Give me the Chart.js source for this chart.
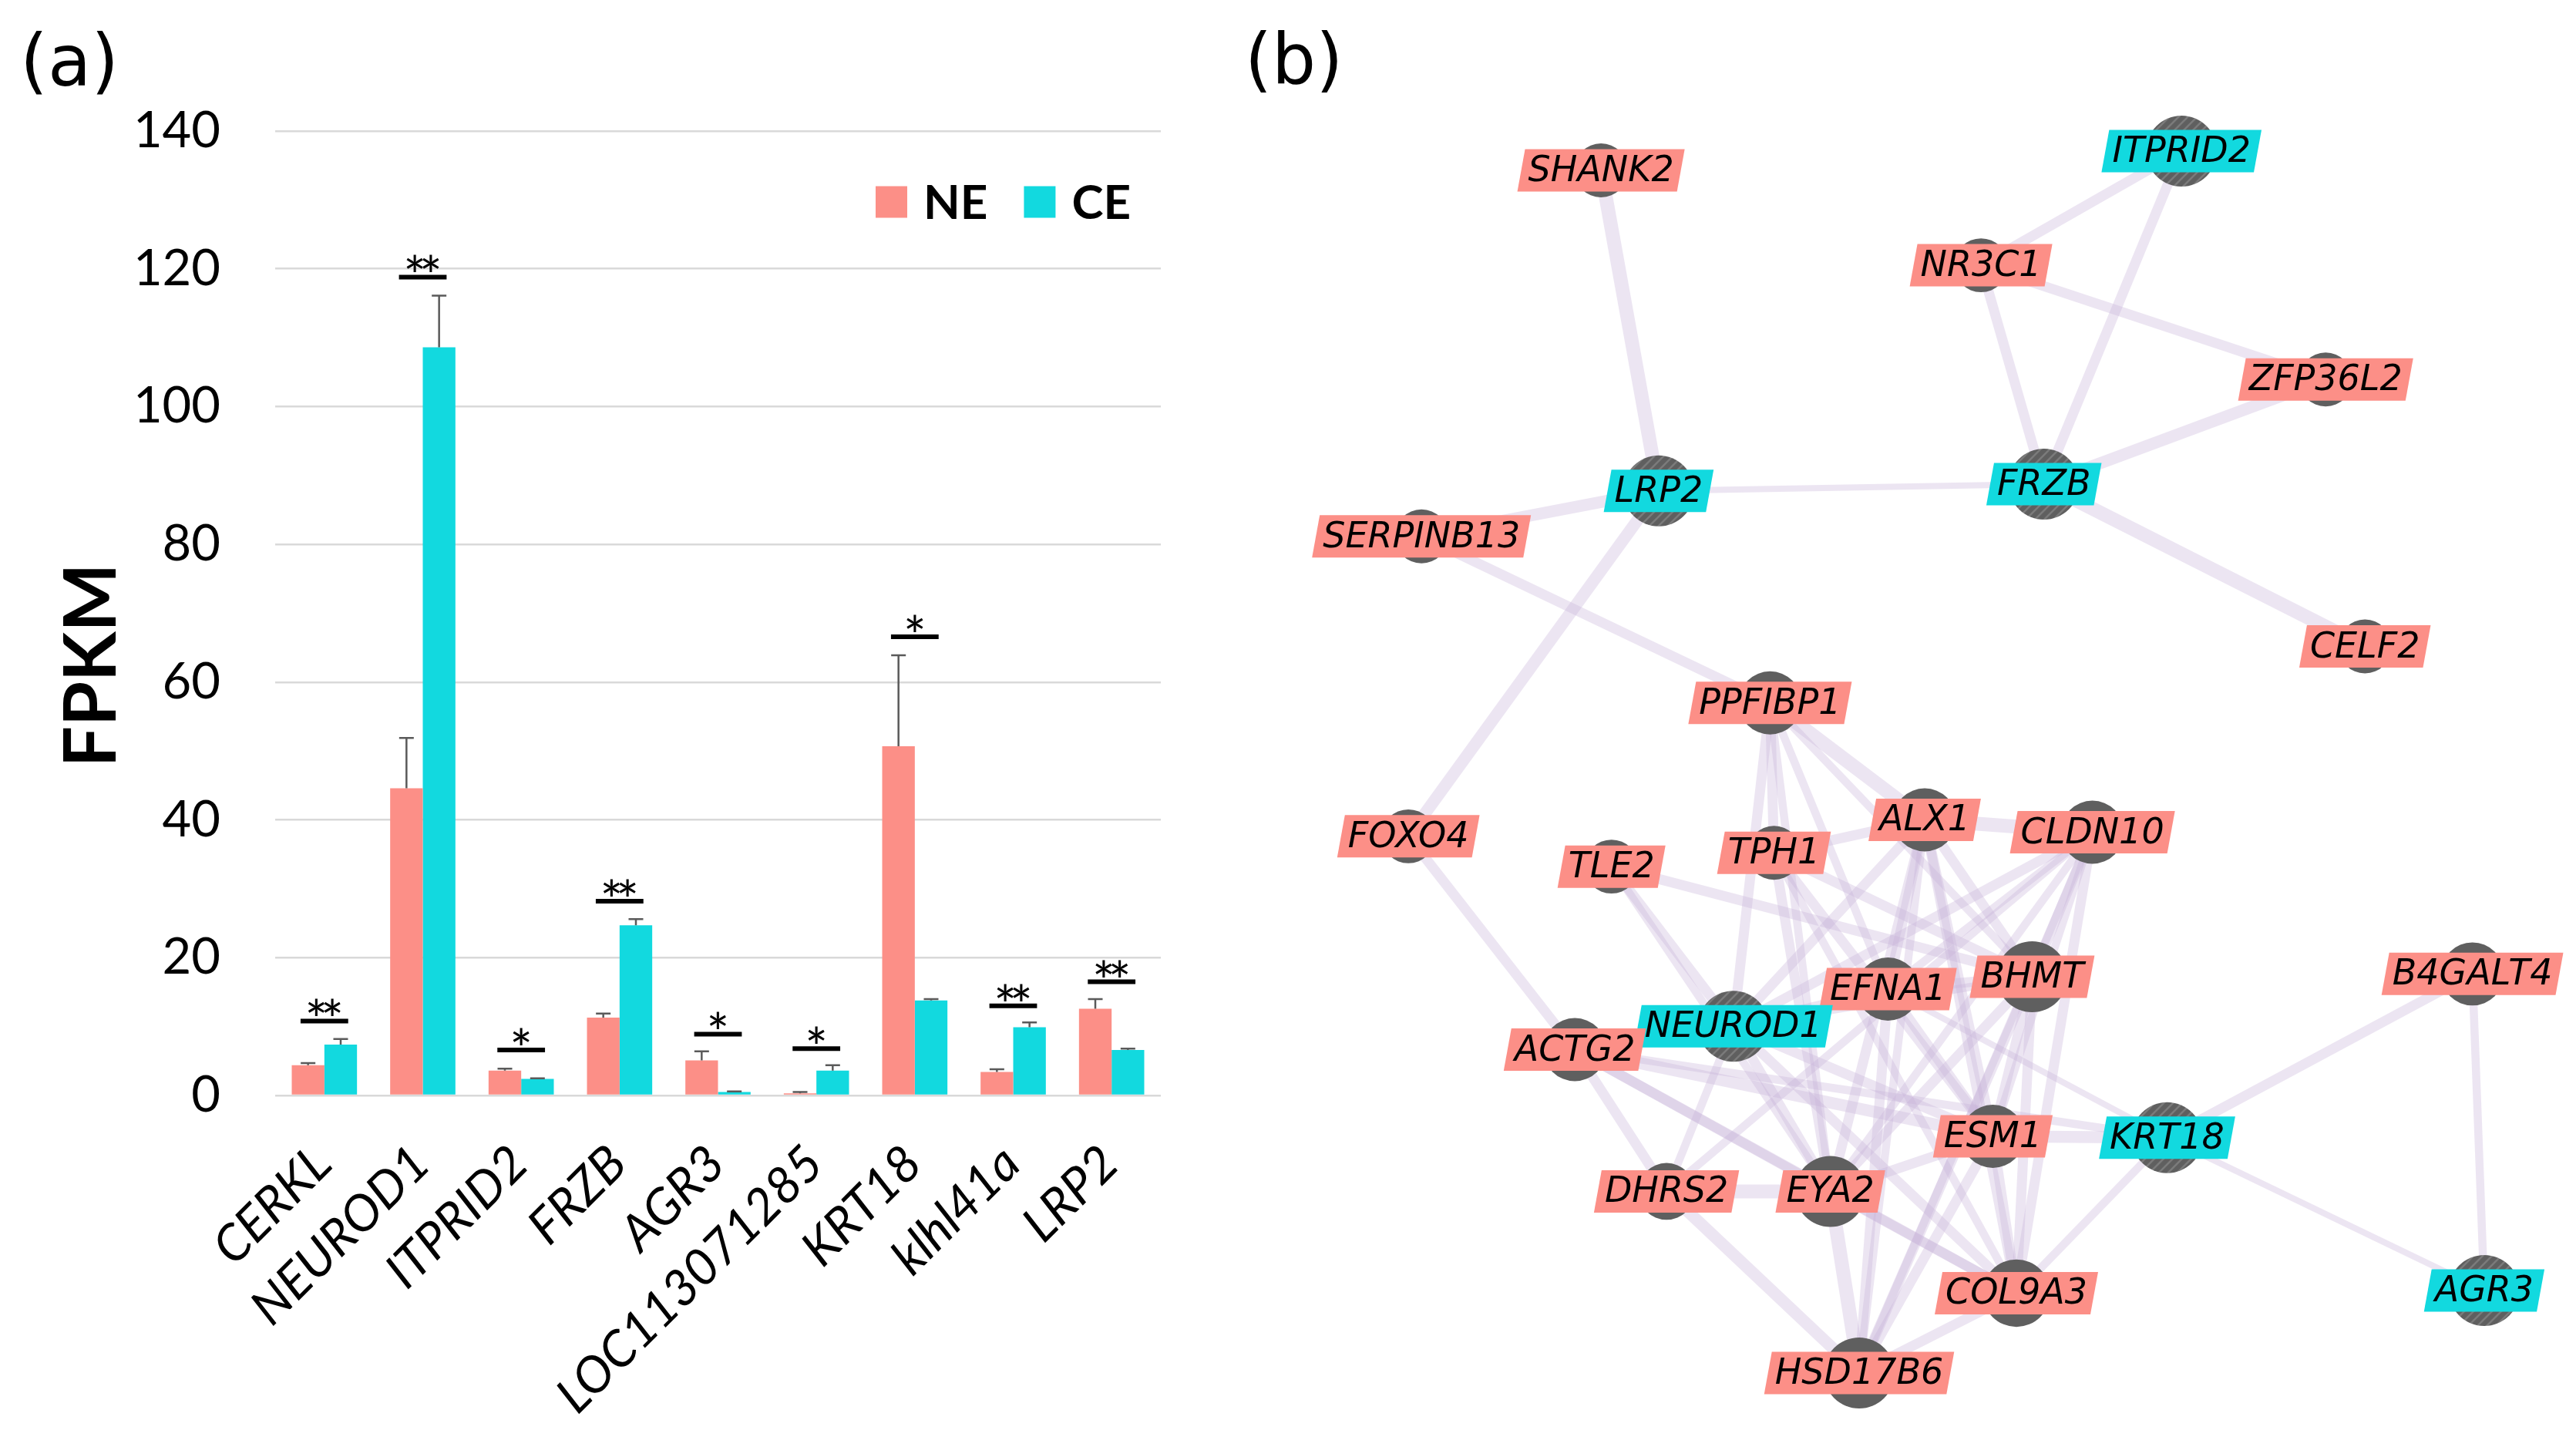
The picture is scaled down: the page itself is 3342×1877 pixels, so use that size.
<!DOCTYPE html>
<html>
<head>
<meta charset="utf-8">
<script src="https://cdn.jsdelivr.net/npm/chart.js@4.4.1/dist/chart.umd.min.js"></script>
<style>
html, body { margin: 0; padding: 0; background: #fff; width: 3342px; height: 1877px; overflow: hidden; }
#bars { position: absolute; left: 0; top: 0; }
#net { position: absolute; left: 1550px; top: 0; }
</style>
</head>
<body>
<canvas id="bars" width="1550" height="1877"></canvas>
<canvas id="net" width="1792" height="1877"></canvas>
<script>
// (a) expression of the DEGs
var categories = ['CERKL', 'NEUROD1', 'ITPRID2', 'FRZB', 'AGR3', 'LOC113071285', 'KRT18', 'klhl41a', 'LRP2'];
var neValues = [4.4, 44.6, 3.6, 11.3, 5.1, 0.3, 50.7, 3.4, 12.6];
var neErrors = [0.3, 7.3, 0.3, 0.6, 1.3, 0.2, 13.2, 0.4, 1.4];
var ceValues = [7.4, 108.6, 2.4, 24.7, 0.5, 3.6, 13.8, 9.9, 6.6];
var ceErrors = [0.8, 7.5, 0.1, 0.9, 0.1, 0.8, 0.2, 0.7, 0.2];
var sigMarks = ['**', '**', '*', '**', '*', '*', '*', '**', '**'];
var sigHeights = [10.8, 118.8, 6.6, 28.2, 8.9, 6.8, 66.6, 13.0, 16.5];
var yTicks = [0, 20, 40, 60, 80, 100, 120, 140];

// (b) interaction network (layout units 0-1000)
var nodeNames = ['SHANK2', 'ITPRID2', 'NR3C1', 'ZFP36L2', 'LRP2', 'FRZB', 'SERPINB13', 'CELF2', 'PPFIBP1',
  'FOXO4', 'ALX1', 'CLDN10', 'TLE2', 'TPH1', 'EFNA1', 'BHMT', 'B4GALT4', 'NEUROD1', 'ACTG2', 'ESM1',
  'KRT18', 'DHRS2', 'EYA2', 'COL9A3', 'AGR3', 'HSD17B6'];
var nodeX = [283, 726, 573, 836, 327, 621, 146, 866, 412, 136, 530, 658, 291, 415, 502, 612, 948, 384, 263,
  582, 715, 333, 458, 600, 957, 480];
var nodeY = [98, 84, 167, 250, 331, 326, 364, 444, 485, 582, 570, 579, 604, 594, 693, 684, 682, 720, 737,
  800, 801, 840, 840, 914, 912, 972];
var nodeScore = [0.76, 1, 0.76, 0.76, 1, 1, 0.76, 0.76, 0.89, 0.76, 0.89, 0.89, 0.76, 0.76, 0.89, 1, 0.89, 1,
  0.89, 0.89, 1, 0.8, 1, 0.95, 1, 1];
var edgeList = [
  ['SHANK2', 'LRP2', 3], ['SERPINB13', 'LRP2', 2.5], ['LRP2', 'FRZB', 1], ['LRP2', 'FOXO4', 2.5],
  ['SERPINB13', 'PPFIBP1', 2], ['NR3C1', 'ITPRID2', 2], ['ITPRID2', 'FRZB', 2], ['NR3C1', 'FRZB', 2],
  ['NR3C1', 'ZFP36L2', 2], ['FRZB', 'ZFP36L2', 2.5], ['FRZB', 'CELF2', 3], ['FOXO4', 'ACTG2', 2],
  ['PPFIBP1', 'ALX1', 3], ['PPFIBP1', 'TPH1', 2], ['PPFIBP1', 'NEUROD1', 2], ['PPFIBP1', 'EYA2', 1.5],
  ['PPFIBP1', 'BHMT', 1.5], ['PPFIBP1', 'EFNA1', 1.5], ['TPH1', 'ALX1', 2], ['ALX1', 'CLDN10', 3],
  ['TLE2', 'NEUROD1', 2], ['TLE2', 'BHMT', 2], ['TLE2', 'EYA2', 1.5], ['ACTG2', 'NEUROD1', 2],
  ['ACTG2', 'ESM1', 2.5], ['ACTG2', 'KRT18', 1.5], ['ACTG2', 'DHRS2', 2], ['ACTG2', 'COL9A3', 2],
  ['ACTG2', 'EYA2', 2], ['NEUROD1', 'EFNA1', 2], ['NEUROD1', 'EYA2', 2], ['NEUROD1', 'ESM1', 2],
  ['NEUROD1', 'COL9A3', 2], ['NEUROD1', 'ALX1', 2], ['NEUROD1', 'CLDN10', 2], ['NEUROD1', 'BHMT', 1.5],
  ['NEUROD1', 'DHRS2', 1.5], ['DHRS2', 'EYA2', 3], ['DHRS2', 'HSD17B6', 2.5], ['DHRS2', 'CLDN10', 1.5],
  ['EYA2', 'HSD17B6', 3], ['EYA2', 'ALX1', 2], ['EYA2', 'BHMT', 2], ['EYA2', 'CLDN10', 1.5],
  ['EYA2', 'ESM1', 2], ['EYA2', 'COL9A3', 2], ['ESM1', 'KRT18', 2.5], ['ESM1', 'COL9A3', 2],
  ['KRT18', 'B4GALT4', 2], ['KRT18', 'AGR3', 1], ['B4GALT4', 'AGR3', 1.5], ['KRT18', 'COL9A3', 1.5],
  ['EFNA1', 'KRT18', 1], ['COL9A3', 'HSD17B6', 2], ['HSD17B6', 'ESM1', 2], ['HSD17B6', 'BHMT', 2],
  ['HSD17B6', 'CLDN10', 1.5], ['HSD17B6', 'ALX1', 1.5], ['BHMT', 'ALX1', 2], ['BHMT', 'CLDN10', 2],
  ['BHMT', 'COL9A3', 2], ['BHMT', 'ESM1', 2], ['CLDN10', 'ESM1', 1.5], ['CLDN10', 'COL9A3', 2],
  ['TPH1', 'ESM1', 2], ['TPH1', 'BHMT', 2], ['TPH1', 'EYA2', 2], ['TPH1', 'COL9A3', 1.5],
  ['EFNA1', 'BHMT', 2], ['EFNA1', 'ALX1', 2], ['EFNA1', 'CLDN10', 1.5], ['EFNA1', 'ESM1', 2],
  ['EFNA1', 'HSD17B6', 2], ['ALX1', 'COL9A3', 2], ['ALX1', 'ESM1', 2]
];

var NE_COLOR = '#FC8F87';
var CE_COLOR = '#12D9DF';

Chart.defaults.font.family = 'Lato';
Chart.defaults.color = '#000';

var barExtras = {
  id: 'barExtras',
  afterDatasetsDraw: function (chart) {
    var ctx = chart.ctx;
    var y = chart.scales.y;
    var errs = [neErrors, ceErrors];
    ctx.save();
    ctx.strokeStyle = '#5a5a5a';
    ctx.lineWidth = 2.5;
    errs.forEach(function (e, d) {
      var vals = chart.data.datasets[d].data;
      chart.getDatasetMeta(d).data.forEach(function (bar, i) {
        var top = y.getPixelForValue(vals[i] + e[i]);
        ctx.beginPath();
        ctx.moveTo(bar.x, bar.y);
        ctx.lineTo(bar.x, top);
        ctx.moveTo(bar.x - 9.5, top);
        ctx.lineTo(bar.x + 9.5, top);
        ctx.stroke();
      });
    });

    // significance bars and stars
    var m0 = chart.getDatasetMeta(0), m1 = chart.getDatasetMeta(1);
    ctx.fillStyle = '#000';
    ctx.strokeStyle = '#000';
    ctx.lineWidth = 6;
    ctx.font = '70px Lato';
    ctx.textAlign = 'left';
    ctx.textBaseline = 'alphabetic';
    var star = ctx.measureText('*');
    var step = star.width - 9;
    categories.forEach(function (c, i) {
      var b0 = m0.data[i], b1 = m1.data[i];
      var cx = (b0.x + b1.x) / 2;
      var half = b0.width * 0.73;
      var ly = y.getPixelForValue(sigHeights[i]);
      ctx.beginPath();
      ctx.moveTo(cx - half, ly);
      ctx.lineTo(cx + half, ly);
      ctx.stroke();
      var n = sigMarks[i].length;
      var sx = cx - (star.width + step * (n - 1)) / 2;
      for (var k = 0; k < n; k++) {
        ctx.fillText('*', sx + k * step, ly - 6 - star.actualBoundingBoxDescent);
      }
    });

    // legend inside the plot
    var area = chart.chartArea;
    var lx = area.right - 370, lyc = area.top + 92;
    ctx.font = 'bold 62px Lato';
    ctx.textAlign = 'left';
    ctx.textBaseline = 'middle';
    chart.data.datasets.forEach(function (ds) {
      ctx.fillStyle = ds.backgroundColor;
      ctx.fillRect(lx, lyc - 20.5, 41, 41);
      ctx.fillStyle = '#000';
      ctx.fillText(ds.label, lx + 62, lyc + 2);
      lx += 62 + ctx.measureText(ds.label).width + 47;
    });

    // axis title and panel letter
    ctx.save();
    ctx.translate(120, 863);
    ctx.rotate(-Math.PI / 2);
    ctx.font = 'bold 94px Lato';
    ctx.textAlign = 'center';
    ctx.fillText('FPKM', 0, 0);
    ctx.restore();
    ctx.font = '92px "DejaVu Sans"';
    ctx.textAlign = 'left';
    ctx.textBaseline = 'alphabetic';
    ctx.fillText('(a)', 26, 111);
    ctx.restore();
  }
};

new Chart(document.getElementById('bars').getContext('2d'), {
  type: 'bar',
  data: {
    labels: categories,
    datasets: [
      { label: 'NE', data: neValues, backgroundColor: NE_COLOR },
      { label: 'CE', data: ceValues, backgroundColor: CE_COLOR }
    ]
  },
  options: {
    responsive: false,
    devicePixelRatio: 1,
    animation: false,
    layout: { padding: { top: 170, right: 44, left: 0, bottom: 0 } },
    datasets: { bar: { categoryPercentage: 0.663, barPercentage: 1.0 } },
    plugins: { legend: { display: false }, tooltip: { enabled: false } },
    scales: {
      x: {
        grid: { display: false },
        border: { display: false },
        ticks: {
          autoSkip: false,
          minRotation: 45,
          maxRotation: 45,
          padding: 42,
          labelOffset: -2,
          font: { size: 65, style: 'italic' }
        },
        afterFit: function (scale) { scale.height = 456; }
      },
      y: {
        min: 0,
        max: 140,
        afterBuildTicks: function (scale) { scale.ticks = yTicks.map(function (v) { return { value: v }; }); },
        grid: { color: '#d9d9d9', lineWidth: 2.5, drawTicks: false },
        border: { display: false },
        ticks: { padding: 71, font: { size: 65 } },
        afterFit: function (scale) { scale.width = 357; }
      }
    }
  },
  plugins: [barExtras]
});

// network
var netCtx = document.getElementById('net').getContext('2d');

function hatchPattern() {
  var c = document.createElement('canvas');
  c.width = 12;
  c.height = 12;
  var g = c.getContext('2d');
  g.fillStyle = '#5f5f5f';
  g.fillRect(0, 0, 12, 12);
  g.strokeStyle = '#7b7b7b';
  g.lineWidth = 2.5;
  g.beginPath();
  g.moveTo(0, 12); g.lineTo(12, 0);
  g.moveTo(-6, 6); g.lineTo(6, -6);
  g.moveTo(6, 18); g.lineTo(18, 6);
  g.stroke();
  return netCtx.createPattern(c, 'repeat');
}
var hatch = hatchPattern();

function isDeg(name) { return categories.indexOf(name) >= 0; }

var edgeSets = edgeList.map(function (e) {
  var a = nodeNames.indexOf(e[0]), b = nodeNames.indexOf(e[1]);
  return {
    data: [{ x: nodeX[a], y: nodeY[a] }, { x: nodeX[b], y: nodeY[b] }],
    showLine: true,
    borderColor: 'rgba(200, 178, 218, 0.34)',
    borderWidth: 3 + e[2] * 5,
    pointRadius: 0,
    order: 2
  };
});

var nodeSet = {
  data: nodeNames.map(function (n, i) { return { x: nodeX[i], y: nodeY[i] }; }),
  pointRadius: nodeScore.map(function (s) { return 46 * s; }),
  pointBackgroundColor: nodeNames.map(function (n) { return isDeg(n) ? hatch : '#5f5f5f'; }),
  pointBorderWidth: 0,
  order: 0
};

var nodeLabels = {
  id: 'nodeLabels',
  afterDatasetsDraw: function (chart) {
    var ctx = chart.ctx, sx = chart.scales.x, sy = chart.scales.y;
    ctx.save();
    ctx.font = 'oblique 46px "DejaVu Sans"';
    ctx.textAlign = 'center';
    ctx.textBaseline = 'alphabetic';
    nodeNames.forEach(function (n, i) {
      var cx = sx.getPixelForValue(nodeX[i]), cy = sy.getPixelForValue(nodeY[i]);
      var w = ctx.measureText(n).width + 18, h = 55, k = 5;
      ctx.fillStyle = isDeg(n) ? CE_COLOR : NE_COLOR;
      ctx.beginPath();
      ctx.moveTo(cx - w / 2 - k, cy + h / 2);
      ctx.lineTo(cx + w / 2 - k, cy + h / 2);
      ctx.lineTo(cx + w / 2 + k, cy - h / 2);
      ctx.lineTo(cx - w / 2 + k, cy - h / 2);
      ctx.closePath();
      ctx.fill();
      ctx.fillStyle = '#000';
      ctx.fillText(n, cx, cy + 14);
    });
    ctx.font = '90px "DejaVu Sans"';
    ctx.textAlign = 'left';
    ctx.fillText('(b)', 65, 108);
    ctx.restore();
  }
};

new Chart(netCtx, {
  type: 'scatter',
  data: { datasets: [nodeSet].concat(edgeSets) },
  options: {
    responsive: false,
    devicePixelRatio: 1,
    animation: false,
    layout: { padding: 0 },
    plugins: { legend: { display: false }, tooltip: { enabled: false } },
    scales: {
      x: { display: false, min: 0, max: 1000 },
      y: { display: false, min: 0, max: 1000, reverse: true }
    }
  },
  plugins: [nodeLabels]
});
</script>
</body>
</html>
